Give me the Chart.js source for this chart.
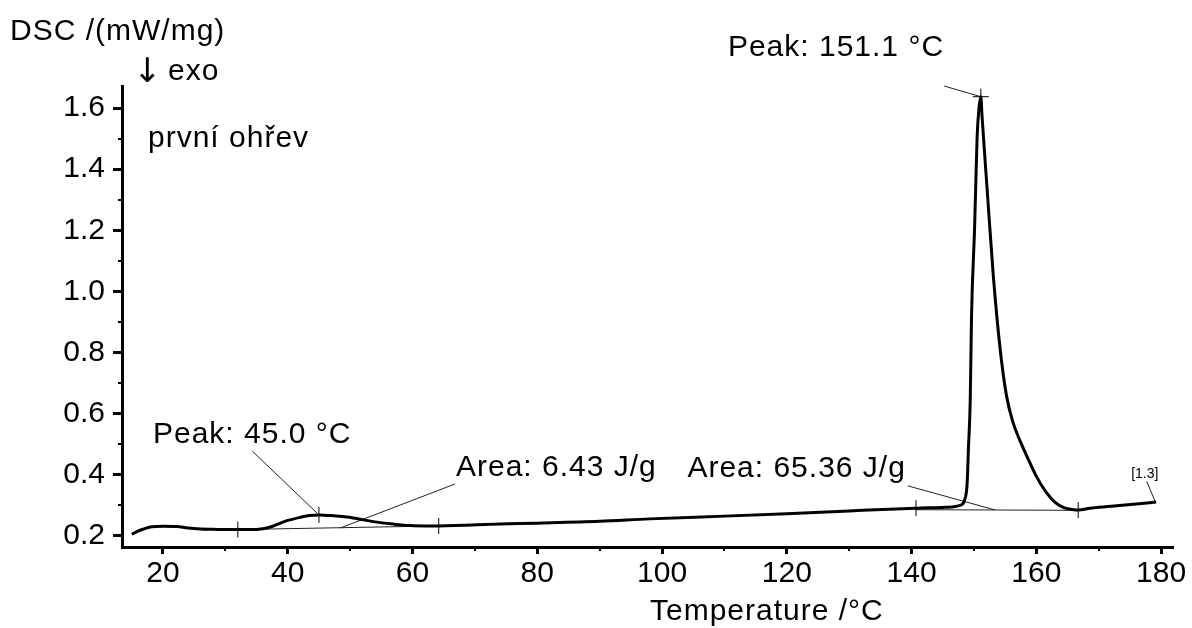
<!DOCTYPE html>
<html>
<head>
<meta charset="utf-8">
<script src="https://cdn.jsdelivr.net/npm/chart.js@4/dist/chart.umd.min.js"></script>
<style>
  html, body { margin: 0; padding: 0; background: #fff; }
  #wrap { width: 1192px; height: 628px; }
</style>
</head>
<body>
<div id="wrap"><canvas id="dscChart" width="1192" height="628"></canvas></div>
<script>
// DSC curve, first heating
const temperature = [15.0, 15.8, 16.8, 18.2, 20.0, 22.2, 24.0, 26.0, 28.0, 30.0, 32.0, 34.0, 36.0, 37.6, 39.0, 40.0,
  42.0, 43.5, 45.0, 47.3, 50.5, 53.7, 56.9, 59.6, 62.0, 64.2, 74.0, 80.0, 90.0, 98.0, 110.0, 120.0, 130.0, 140.7,
  145.4, 147.9, 148.5, 148.9, 149.1, 149.4, 149.6, 150.1, 150.5, 150.8, 151.1, 151.3, 152.15, 153.1, 154.2, 155.2,
  156.2, 157.2, 158.5, 160.0, 161.5, 163.0, 164.5, 166.0, 166.7, 168.6, 172.0, 176.0, 179.2];
const dsc = [0.206, 0.214, 0.222, 0.230, 0.232, 0.231, 0.226, 0.223, 0.222, 0.221, 0.221, 0.221, 0.224, 0.232, 0.244, 0.251,
  0.261, 0.267, 0.269, 0.266, 0.259, 0.247, 0.239, 0.234, 0.233, 0.233, 0.239, 0.242, 0.248, 0.256, 0.265, 0.273, 0.282, 0.291,
  0.294, 0.301, 0.318, 0.372, 0.481, 0.645, 0.916, 1.21, 1.505, 1.60, 1.637, 1.57, 1.322, 1.05, 0.81, 0.66,
  0.575, 0.52, 0.46, 0.395, 0.345, 0.31, 0.292, 0.286, 0.285, 0.291, 0.297, 0.305, 0.311];

const xTicks = [20, 40, 60, 80, 100, 120, 140, 160, 180];
const xMinorTicks = [30, 50, 70, 90, 110, 130, 150, 170];
const yTicks = [0.2, 0.4, 0.6, 0.8, 1.0, 1.2, 1.4, 1.6];
const yMinorTicks = [0.3, 0.5, 0.7, 0.9, 1.1, 1.3, 1.5];

// evaluation marks
const peakX = [45.0, 151.1];
const peakY = [0.269, 1.637];
const limitX = [32.0, 64.2, 140.7, 166.7];
const limitY = [0.221, 0.233, 0.291, 0.285];
const baseline1X = [32.0, 64.2];
const baseline1Y = [0.221, 0.233];
const baseline2X = [140.7, 166.7];
const baseline2Y = [0.286, 0.284];

// labels and their leader lines (data units)
const labelTexts = ['Peak: 151.1 °C', 'Peak: 45.0 °C', 'Area: 6.43 J/g', 'Area: 65.36 J/g', '[1.3]'];
const leaderFromX = [145.2, 34.3, 66.8, 139.4, 177.7];
const leaderFromY = [1.672, 0.478, 0.370, 0.364, 0.378];
const leaderToX = [151.1, 45.0, 48.4, 153.4, 179.1];
const leaderToY = [1.637, 0.269, 0.226, 0.285, 0.310];

const FONT = '"Liberation Sans", Arial, sans-serif';

const pts = (xs, ys) => xs.map((x, i) => ({ x: x, y: ys[i] }));

const leaderSets = labelTexts.map((t, i) => ({
  data: [{ x: leaderFromX[i], y: leaderFromY[i] }, { x: leaderToX[i], y: leaderToY[i] }],
  borderColor: '#222',
  borderWidth: 1,
  pointRadius: 0,
  clip: false
}));

// minor ticks, axis texts, annotation labels
const extras = {
  id: 'extras',
  afterDraw(chart) {
    const c = chart.ctx;
    const xs = chart.scales.x, ys = chart.scales.y;
    const area = chart.chartArea;
    c.save();
    c.strokeStyle = '#000';
    c.lineWidth = 2;
    c.beginPath();
    xMinorTicks.forEach(v => {
      const px = Math.round(xs.getPixelForValue(v));
      c.moveTo(px, area.bottom);
      c.lineTo(px, area.bottom + 4);
    });
    yMinorTicks.forEach(v => {
      const py = Math.round(ys.getPixelForValue(v));
      c.moveTo(area.left, py);
      c.lineTo(area.left - 4, py);
    });
    c.stroke();

    c.fillStyle = '#000';
    c.textBaseline = 'alphabetic';
    c.letterSpacing = '1px';
    c.font = '30px ' + FONT;
    c.textAlign = 'left';
    c.fillText('DSC /(mW/mg)', 10, 40);
    c.fillText('exo', 168, 80);
    c.fillText('první ohřev', 148, 147);
    c.fillText('Temperature /°C', 650, 620);
    c.font = '34px "DejaVu Sans", sans-serif';
    c.letterSpacing = '0px';
    c.fillText('\u2193', 133, 82);

    // annotation labels next to their leader lines
    c.letterSpacing = '1px';
    const offs = [[0, -30, 'right'], [0, -8, 'center'], [1, -8, 'left'], [-2, -9, 'right'], [-2, -4, 'center']];
    labelTexts.forEach((t, i) => {
      const px = xs.getPixelForValue(leaderFromX[i]);
      const py = ys.getPixelForValue(leaderFromY[i]);
      c.font = (i === 4 ? '14px ' : '30px ') + FONT;
      c.letterSpacing = i === 4 ? '0px' : '1px';
      c.textAlign = offs[i][2];
      c.fillText(t, px + offs[i][0], py + offs[i][1]);
    });
    c.restore();
  }
};

new Chart(document.getElementById('dscChart'), {
  type: 'line',
  data: {
    datasets: [
      {
        data: pts(temperature, dsc),
        borderColor: '#000',
        borderWidth: 3,
        pointRadius: 0,
        cubicInterpolationMode: 'monotone'
      },
      { data: pts(baseline1X, baseline1Y), borderColor: '#222', borderWidth: 1, pointRadius: 0 },
      { data: pts(baseline2X, baseline2Y), borderColor: '#222', borderWidth: 1, pointRadius: 0 },
      {
        type: 'scatter',
        data: pts(peakX.concat(limitX), peakY.concat(limitY)),
        pointStyle: 'cross',
        pointRadius: 8,
        borderColor: '#000',
        borderWidth: 1,
        clip: false
      },
      ...leaderSets
    ]
  },
  options: {
    responsive: false,
    animation: false,
    layout: { padding: { top: 86, right: 19, left: 0, bottom: 0 } },
    plugins: { legend: { display: false }, tooltip: { enabled: false } },
    scales: {
      x: {
        type: 'linear',
        min: 13.43,
        max: 181.9,
        afterBuildTicks: s => { s.ticks = xTicks.map(v => ({ value: v })); },
        afterFit: s => { s.height = 81; },
        ticks: { font: { family: FONT, size: 30 }, color: '#000', padding: 2, maxRotation: 0, autoSkip: false },
        grid: { drawOnChartArea: false, drawTicks: true, tickLength: 7, tickWidth: 3, tickColor: '#000' },
        border: { display: true, color: '#000', width: 3 }
      },
      y: {
        type: 'linear',
        min: 0.164,
        max: 1.672,
        afterBuildTicks: s => { s.ticks = yTicks.map(v => ({ value: v })); },
        afterFit: s => { s.width = 122; },
        ticks: { font: { family: FONT, size: 30 }, color: '#000', padding: 8, callback: v => v.toFixed(1) },
        grid: { drawOnChartArea: false, drawTicks: true, tickLength: 9, tickWidth: 3, tickColor: '#000' },
        border: { display: true, color: '#000', width: 3 }
      }
    }
  },
  plugins: [extras]
});
</script>
</body>
</html>
